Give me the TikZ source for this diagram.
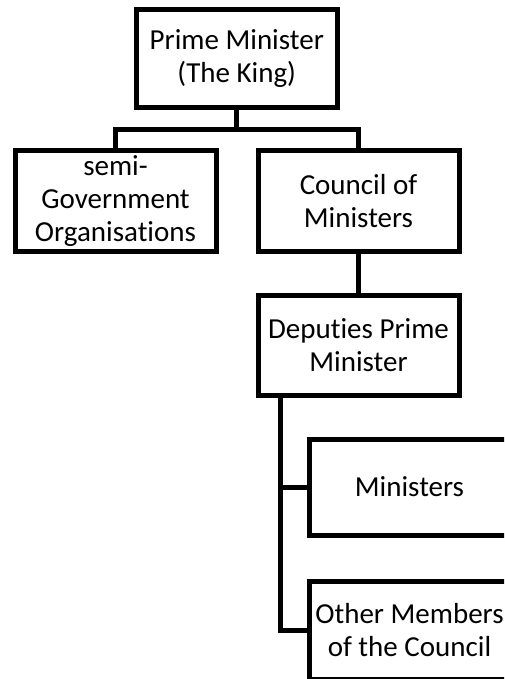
\documentclass[tikz,border=0pt]{standalone}
\usepackage{fontspec}
\setmainfont{Carlito}[Ligatures=NoCommon]
\begin{document}
\begin{tikzpicture}[x=1pt,y=-1pt,
  box/.style={draw=black,line width=5pt,rectangle,inner sep=0pt,align=center,
    font=\fontsize{29}{33}\selectfont,minimum width=201pt,minimum height=100pt},
  link/.style={draw=black,line width=5pt,line join=miter}]
\useasboundingbox (0,0) rectangle (504,679);
\clip (0,0) rectangle (504,679);
\node[box,minimum height=98pt] (pm) at (236.75,59) {Prime Minister\\(The King)};
\node[box] (semi) at (115.5,201) {semi-\\Government\\Organisations};
\node[box] (council) at (358.5,201) {Council of\\Ministers};
\node[box] (dep) at (358.5,345) {Deputies Prime\\Minister};
\node[box,minimum height=96pt] (min) at (409.5,487) {Ministers};
\node[box,minimum height=98pt] (other) at (409.5,630.5) {Other Members\\of the Council};
\coordinate (bar) at (0,130);
\coordinate (trunk) at (280,0);
\draw[link] (pm.south) -- (pm.south |- bar) -| (semi.north);
\draw[link] (pm.south |- bar) -| (council.north);
\draw[link] (council.south) -- (dep.north);
\draw[link] (trunk |- dep.south) -- (trunk |- other.west) -- (other.west);
\draw[link] (trunk |- min.west) -- (min.west);
\end{tikzpicture}
\end{document}
